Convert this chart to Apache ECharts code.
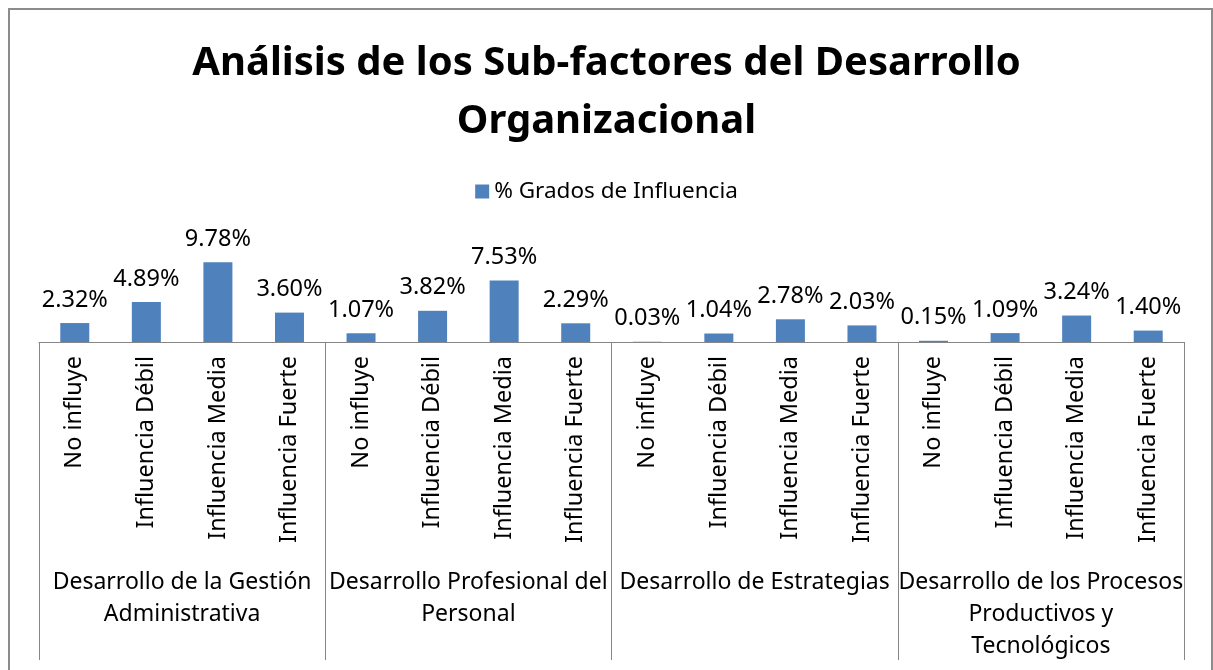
<!DOCTYPE html>
<html>
<head>
<meta charset="utf-8">
<script src="https://cdn.jsdelivr.net/npm/echarts@6/dist/echarts.min.js"></script>
<style>
  html, body { margin: 0; padding: 0; background: #fff; }
  #main { width: 1213px; height: 670px; }
</style>
</head>
<body>
<div id="main"></div>
<script>
// datos del gráfico
var grados = ['No influye', 'Influencia Débil', 'Influencia Media', 'Influencia Fuerte'];
var subfactores = [
    'Desarrollo de la Gestión\nAdministrativa',
    'Desarrollo Profesional del\nPersonal',
    'Desarrollo de Estrategias',
    'Desarrollo de los Procesos\nProductivos y\nTecnológicos'
];
var porcentajes = [2.32, 4.89, 9.78, 3.60, 1.07, 3.82, 7.53, 2.29, 0.03, 1.04, 2.78, 2.03, 0.15, 1.09, 3.24, 1.40];

var categorias = [];
subfactores.forEach(function () {
    grados.forEach(function (g) { categorias.push(g); });
});

var fuente = 'Noto Sans';
var gris = '#868686';

var myChart = echarts.init(document.getElementById('main'));
var option = {
    backgroundColor: '#fff',
    textStyle: { fontFamily: fuente },
    title: {
        text: 'Análisis de los Sub-factores del Desarrollo\nOrganizacional',
        left: 'center',
        top: 30,
        textStyle: { fontFamily: fuente, fontSize: 40, fontWeight: 'bold', color: '#000', lineHeight: 58 }
    },
    legend: {
        data: ['% Grados de Influencia'],
        top: 175,
        left: 'center',
        icon: 'rect',
        itemWidth: 14,
        itemHeight: 14,
        itemGap: 7,
        textStyle: { fontFamily: fuente, fontSize: 22.5, color: '#000' }
    },
    graphic: [{
        type: 'rect',
        shape: { x: 9, y: 9, width: 1203, height: 700 },
        style: { fill: 'none', stroke: '#8c8c8c', lineWidth: 2 },
        silent: true
    }],
    grid: { left: 39, right: 29, top: 244, bottom: 328 },
    xAxis: [{
        type: 'category',
        data: categorias,
        position: 'bottom',
        axisLine: { lineStyle: { color: gris, width: 1 } },
        axisTick: { show: false },
        axisLabel: { interval: 0, rotate: 90, margin: 14, fontSize: 23.5, color: '#000', fontFamily: fuente }
    }, {
        type: 'category',
        data: subfactores,
        position: 'bottom',
        offset: 0,
        axisLine: { show: false },
        axisTick: { show: true, length: 318, lineStyle: { color: gris, width: 1 } },
        axisLabel: {
            interval: 0, margin: 224, fontSize: 23, color: '#000', fontFamily: fuente,
            lineHeight: 32, align: 'center', verticalAlign: 'top'
        }
    }],
    yAxis: {
        type: 'value',
        min: 0,
        max: 12,
        show: false,
        splitLine: { show: false }
    },
    series: [{
        name: '% Grados de Influencia',
        type: 'bar',
        xAxisIndex: 0,
        data: porcentajes,
        barWidth: 29,
        itemStyle: { color: '#4f81bd' },
        label: {
            show: true,
            position: 'top',
            distance: 11,
            fontSize: 23.5,
            color: '#000',
            fontFamily: fuente,
            formatter: function (p) { return p.value.toFixed(2) + '%'; }
        }
    }]
};
myChart.setOption(option);
</script>
</body>
</html>
